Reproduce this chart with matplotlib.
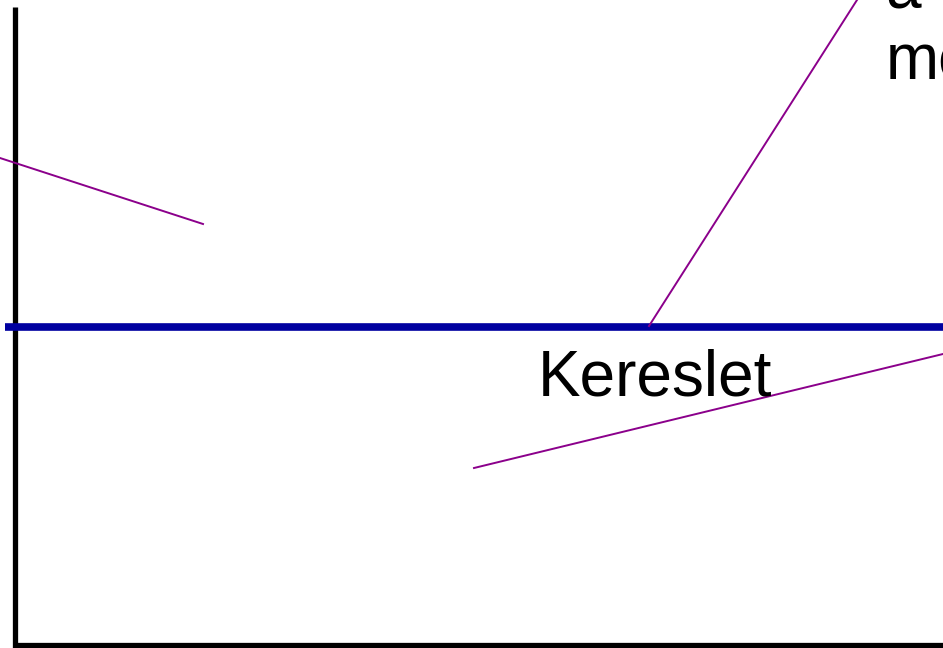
import matplotlib.pyplot as plt

# Supply/demand sketch (slide crop), coordinates in slide units
axis_x = [15, 15, 943]
axis_y = [7, 645, 645]

demand_x = [5, 943]
demand_y = [327, 327]

# callout lines pointing at things
callout1_x = [0, 203]
callout1_y = [158, 224]
callout2_x = [649, 857]
callout2_y = [326, 0]
callout3_x = [474, 943]
callout3_y = [468, 354]

label_demand = "Kereslet"
label_top = ["a k", "mo"]

plt.rcParams['font.family'] = ['Liberation Sans', 'DejaVu Sans']

fig = plt.figure(figsize=(9.43, 6.48), dpi=100)
ax = fig.add_axes([0, 0, 1, 1])
ax.set_xlim(0, 943)
ax.set_ylim(648, 0)
ax.axis('off')

ax.plot(axis_x, axis_y, color='black', lw=3.8, solid_joinstyle='miter', solid_capstyle='butt')
ax.plot(demand_x, demand_y, color='#0000a0', lw=5.5, solid_capstyle='butt')

for xs, ys in [(callout1_x, callout1_y), (callout2_x, callout2_y), (callout3_x, callout3_y)]:
    ax.plot(xs, ys, color='#8b008b', lw=1.4)

ax.text(538, 396, label_demand, fontsize=46, color='black', va='baseline', ha='left')
# top-right label, mostly outside the crop
ax.text(886, 7, label_top[0], fontsize=46, color='black', va='baseline', ha='left')
ax.text(886, 80, label_top[1], fontsize=46, color='black', va='baseline', ha='left')

fig.savefig('out.png', dpi=100)
